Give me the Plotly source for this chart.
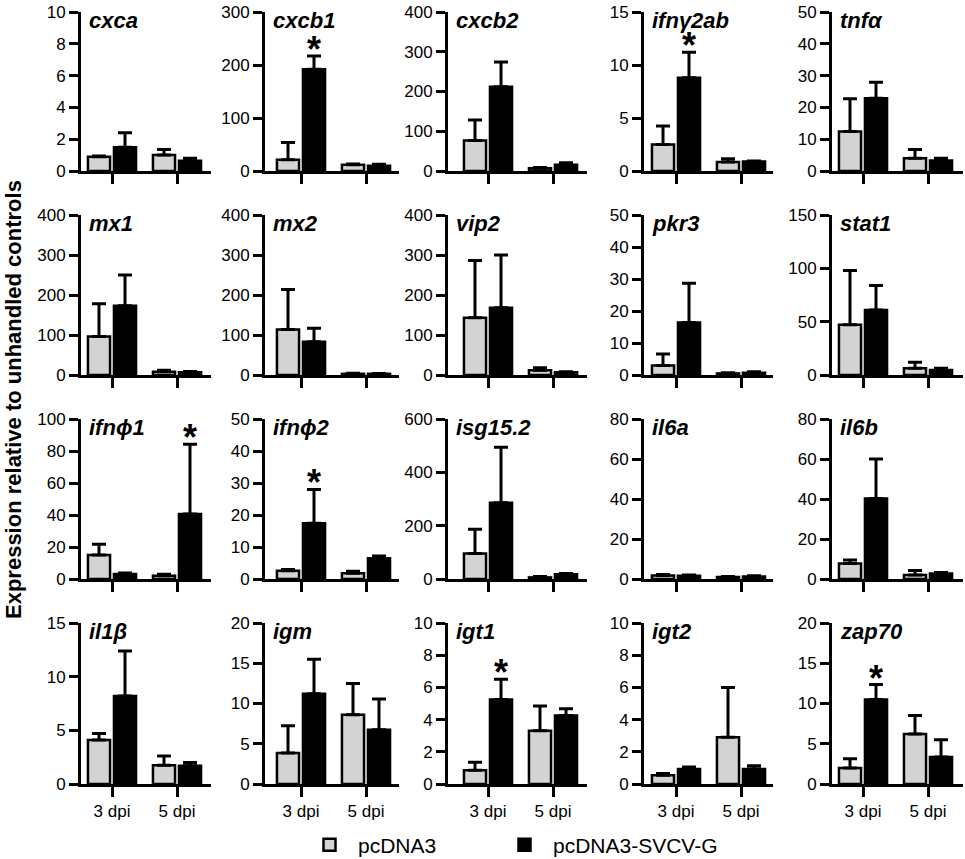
import plotly.graph_objects as go
from plotly.subplots import make_subplots

# genes, one panel each (row-major, 4 rows x 5 cols)
genes = ["cxca", "cxcb1", "cxcb2", "ifnγ2ab", "tnfα",
         "mx1", "mx2", "vip2", "pkr3", "stat1",
         "ifnϕ1", "ifnϕ2", "isg15.2", "il6a", "il6b",
         "il1β", "igm", "igt1", "igt2", "zap70"]
y_max = [10, 300, 400, 15, 50,
         400, 400, 400, 50, 150,
         100, 50, 600, 80, 80,
         15, 20, 10, 10, 20]
y_step = [2, 100, 100, 5, 10,
          100, 100, 100, 10, 50,
          20, 10, 200, 20, 20,
          5, 5, 2, 2, 5]
days = ["3 dpi", "5 dpi"]

# pcDNA3 mean / sd  [3 dpi, 5 dpi]
pc_mean = [[0.9, 1.0], [21, 12], [77, 7], [2.5, 0.85], [12.4, 4.0],
           [96, 8], [114, 3], [143, 12], [3, 0.5], [47, 6.3],
           [15, 2.1], [2.6, 1.8], [96, 6], [1.7, 1.0], [7.8, 2.0],
           [4.1, 1.75], [3.85, 8.6], [0.85, 3.3], [0.55, 2.9], [2.0, 6.2]]
pc_sd = [[0.05, 0.35], [33, 1], [51, 2], [1.75, 0.3], [10.3, 2.8],
         [82, 4], [100, 1.5], [143, 6], [3.6, 0.2], [51, 5.6],
         [6.7, 0.8], [0.4, 0.6], [91, 3], [0.5, 0.2], [1.7, 2.2],
         [0.6, 0.85], [3.4, 3.9], [0.5, 1.55], [0.1, 3.1], [1.15, 2.3]]

# pcDNA3-SVCV-G mean / sd
g_mean = [[1.5, 0.65], [192, 10], [212, 16], [8.8, 0.9], [22.9, 3.3],
          [173, 7], [83, 3], [168, 7], [16.4, 0.7], [61, 4.7],
          [3.1, 40.6], [17.4, 6.5], [286, 18], [1.6, 1.3], [40.3, 2.8],
          [8.2, 1.7], [11.2, 6.75], [5.25, 4.25], [0.93, 0.93], [10.5, 3.35]]
g_sd = [[0.9, 0.15], [25, 2.5], [62, 5], [2.4, 0.05], [5, 0.7],
        [77, 2], [34, 1], [132, 1], [12.3, 0.3], [23, 1.6],
        [0.7, 43.6], [10.6, 0.7], [208, 3], [0.4, 0.3], [19.7, 0.4],
        [4.2, 0.3], [4.3, 3.8], [1.25, 0.43], [0.13, 0.2], [1.85, 2.15]]

# significant (*) bars, always on the SVCV-G series
star_gene = ["cxcb1", "ifnγ2ab", "ifnϕ1", "ifnϕ2", "igt1", "zap70"]
star_day = ["3 dpi", "3 dpi", "5 dpi", "3 dpi", "3 dpi", "3 dpi"]

W, H = 965, 859
FONT = "Liberation Sans, Arial, sans-serif"
GRAY = "#d3d3d3"
BARGAP = 0.2

# panel geometry in pixels
col_left = [81, 265, 448, 644, 832]
col_right = [211, 399, 587, 773, 963]
col_tick = [112, 301, 488, 676, 863]
group_px = 65
row_top = [12, 215, 419, 623]
row_zero = [171, 375, 579, 784]


def px_x(p):
    return p / W


def px_y(p):
    return 1 - p / H


fig = make_subplots(rows=4, cols=5)

for i, gene in enumerate(genes):
    r, c = i // 5, i % 5
    fig.add_trace(go.Bar(x=days, y=pc_mean[i], name="pcDNA3",
                         marker=dict(color=GRAY, line=dict(color="black", width=2.5)),
                         error_y=dict(type="data", array=pc_sd[i], arrayminus=[0, 0], symmetric=False,
                                      color="black", thickness=3, width=7),
                         showlegend=(i == 0), legend="legend"), row=r + 1, col=c + 1)
    fig.add_trace(go.Bar(x=days, y=g_mean[i], name="pcDNA3-SVCV-G",
                         marker=dict(color="black", line=dict(color="black", width=2.5)),
                         error_y=dict(type="data", array=g_sd[i], arrayminus=[0, 0], symmetric=False,
                                      color="black", thickness=3, width=7),
                         showlegend=(i == 0), legend="legend2"), row=r + 1, col=c + 1)

    xr = [(col_left[c] - col_tick[c]) / group_px, (col_right[c] - col_tick[c]) / group_px]
    fig.update_xaxes(domain=[px_x(col_left[c]), px_x(col_right[c])], range=xr, automargin=False,
                     showline=True, linecolor="black", linewidth=3,
                     ticks="outside", ticklen=10, tickwidth=3, tickcolor="black",
                     showgrid=False, zeroline=False, showticklabels=(r == 3),
                     tickfont=dict(family=FONT, size=17, color="black"),
                     row=r + 1, col=c + 1)
    fig.update_yaxes(domain=[px_y(row_zero[r]), px_y(row_top[r])], range=[0, y_max[i]],
                     automargin=False, tickmode="linear", tick0=0, dtick=y_step[i],
                     showline=True, linecolor="black", linewidth=3,
                     ticks="outside", ticklen=9, tickwidth=2.5, tickcolor="black",
                     showgrid=False, zeroline=False,
                     tickfont=dict(family=FONT, size=17, color="black"),
                     row=r + 1, col=c + 1)

    fig.add_annotation(text="<b><i>" + gene + "</i></b>", xref="paper", yref="paper",
                       x=px_x(col_left[c] + 6), y=px_y(row_top[r] - 6),
                       xanchor="left", yanchor="top", showarrow=False,
                       font=dict(family=FONT, size=22, color="black"))

# asterisks above the significant SVCV-G bars
for gene, day in zip(star_gene, star_day):
    i = genes.index(gene)
    d = days.index(day)
    n = i + 1
    fig.add_annotation(text="<b>*</b>", xref="x%d" % n if n > 1 else "x",
                       yref="y%d" % n if n > 1 else "y",
                       x=d + (1 - BARGAP) / 4, y=g_mean[i][d] + g_sd[i][d],
                       xanchor="center", yanchor="bottom", yshift=-16, showarrow=False,
                       font=dict(family=FONT, size=36, color="black"))

fig.add_annotation(text="<b>Expression relative to unhandled controls</b>",
                   xref="paper", yref="paper", x=px_x(13), y=px_y(400),
                   textangle=-90, showarrow=False, xanchor="center", yanchor="middle",
                   font=dict(family=FONT, size=22, color="black"))

leg = dict(orientation="h", yanchor="middle", xanchor="left", y=px_y(845),
           font=dict(family=FONT, size=21, color="black"), itemwidth=47,
           bgcolor="rgba(0,0,0,0)")
fig.update_layout(width=W, height=H, margin=dict(l=0, r=0, t=0, b=0, autoexpand=False),
                  barmode="group", bargap=BARGAP, bargroupgap=0.15,
                  plot_bgcolor="white", paper_bgcolor="white",
                  font=dict(family=FONT, color="black"),
                  legend=dict(leg, x=px_x(301)),
                  legend2=dict(leg, x=px_x(496)))

fig.write_html("out.html", config={"displayModeBar": False},
               post_script="document.body.style.margin = '0';")
